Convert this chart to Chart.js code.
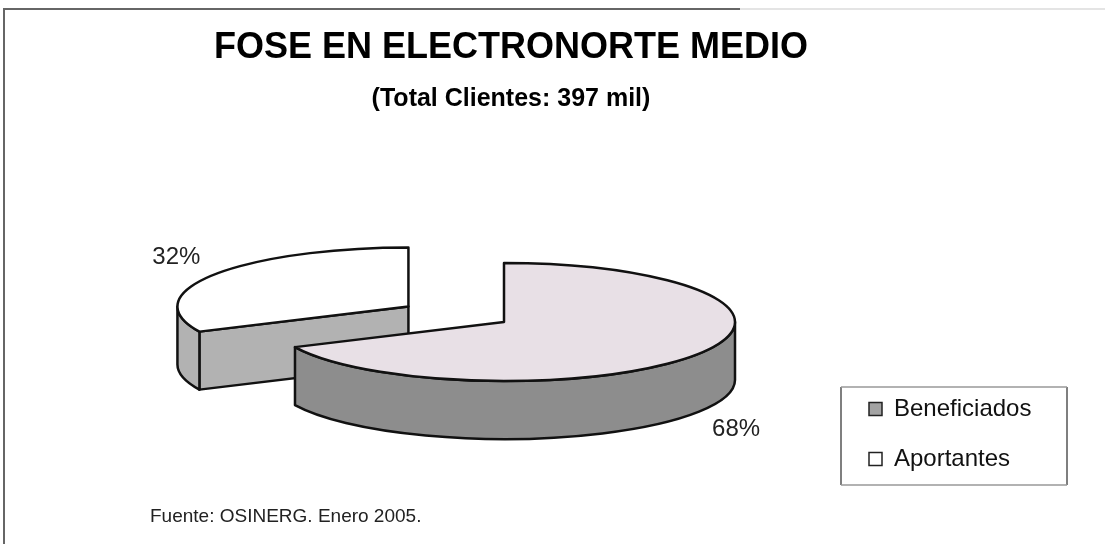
<!DOCTYPE html>
<html>
<head>
<meta charset="utf-8">
<script src="https://cdn.jsdelivr.net/npm/chart.js@4.4.1/dist/chart.umd.min.js"></script>
<style>
  html, body { margin: 0; padding: 0; background: #fff; }
  canvas { display: block; }
</style>
</head>
<body>
<canvas id="grafico" width="1105" height="544"></canvas>
<script>
// datos
const categorias = ['Beneficiados', 'Aportantes'];
const valores = [68, 32];
const titulo = 'FOSE EN ELECTRONORTE MEDIO';
const subtitulo = '(Total Clientes: 397 mil)';
const fuente = 'Fuente: OSINERG. Enero 2005.';

// estilo / vista 3D
const PIE_X = 504, PIE_Y = 322, RX = 231, RY = 59, PROF = 58;
const SEPARAR = [0, 0.49];
const colorSup = ['#e8e0e6', '#ffffff'];
const colorLado = ['#8d8d8d', '#b2b2b2'];
const colorLeyenda = ['#a3a3a3', '#ffffff'];
const BORDE = '#111';
const FUENTE_TXT = "'Liberation Sans', Arial, sans-serif";

function geom(arc, i) {
  const mid = (arc.startAngle + arc.endAngle) / 2;
  const e = SEPARAR[i];
  return {
    cx: PIE_X + RX * e * Math.cos(mid),
    cy: PIE_Y + RY * e * Math.sin(mid),
    a0: arc.startAngle, a1: arc.endAngle, mid
  };
}

function dibujarLados(ctx, g, color) {
  ctx.fillStyle = color;
  ctx.strokeStyle = BORDE;
  ctx.lineWidth = 2.5;
  ctx.lineJoin = 'round';
  // caras radiales que miran al frente
  const caras = [];
  if (Math.cos(g.a0) < -0.01) caras.push(g.a0);
  if (Math.cos(g.a1) > 0.01) caras.push(g.a1);
  caras.forEach(a => {
    const px = g.cx + RX * Math.cos(a), py = g.cy + RY * Math.sin(a);
    ctx.beginPath();
    ctx.moveTo(g.cx, g.cy);
    ctx.lineTo(px, py);
    ctx.lineTo(px, py + PROF);
    ctx.lineTo(g.cx, g.cy + PROF);
    ctx.closePath();
    ctx.fill();
    ctx.stroke();
  });
  // pared exterior (mitad delantera)
  const s = Math.max(g.a0, 0), e = Math.min(g.a1, Math.PI);
  if (s < e) {
    ctx.beginPath();
    ctx.ellipse(g.cx, g.cy, RX, RY, 0, s, e, false);
    ctx.ellipse(g.cx, g.cy + PROF, RX, RY, 0, e, s, true);
    ctx.closePath();
    ctx.fill();
    ctx.stroke();
  }
}

const pastel3d = {
  id: 'pastel3d',
  beforeDraw(chart) {
    const ctx = chart.ctx;
    ctx.save();
    ctx.fillStyle = '#fff';
    ctx.fillRect(0, 0, chart.width, chart.height);
    ctx.lineWidth = 2;
    ctx.strokeStyle = '#666';
    ctx.beginPath();
    ctx.moveTo(4, 544); ctx.lineTo(4, 9); ctx.lineTo(740, 9);
    ctx.stroke();
    ctx.strokeStyle = '#e4e4e4';
    ctx.beginPath();
    ctx.moveTo(740, 9); ctx.lineTo(1105, 9);
    ctx.stroke();
    ctx.restore();
  },
  beforeDatasetsDraw(chart) {
    const ctx = chart.ctx;
    const meta = chart.getDatasetMeta(0);
    const orden = meta.data.map((arc, i) => ({ arc, i, g: geom(arc, i) }))
      .sort((p, q) => p.g.cy - q.g.cy);
    orden.forEach(({ arc, i, g }) => {
      ctx.save();
      dibujarLados(ctx, g, colorLado[i]);
      // cara superior dibujada por el propio elemento del gráfico
      ctx.save();
      ctx.translate(g.cx, g.cy);
      ctx.scale(RX / arc.outerRadius, RY / arc.outerRadius);
      ctx.translate(-arc.x, -arc.y);
      arc.draw(ctx);
      ctx.restore();
      ctx.strokeStyle = BORDE;
      ctx.lineWidth = 2.5;
      ctx.lineJoin = 'round';
      ctx.beginPath();
      ctx.moveTo(g.cx, g.cy);
      ctx.ellipse(g.cx, g.cy, RX, RY, 0, g.a0, g.a1, false);
      ctx.closePath();
      ctx.stroke();
      ctx.restore();
    });
    return false;
  },
  afterLayout(chart) {
    const lg = chart.legend;
    lg.left = 843; lg.right = 1080;
    lg.top = 371; lg.bottom = 560;
  },
  afterDraw(chart) {
    const ctx = chart.ctx;
    const meta = chart.getDatasetMeta(0);
    const total = valores.reduce((a, b) => a + b, 0);
    ctx.save();
    ctx.fillStyle = '#222';
    ctx.font = '24px ' + FUENTE_TXT;
    ctx.textAlign = 'center';
    meta.data.forEach((arc, i) => {
      const g = geom(arc, i);
      const k = 1.19;
      const abajo = Math.sin(g.mid) > 0;
      const x = g.cx + RX * k * Math.cos(g.mid);
      const y = g.cy + RY * k * Math.sin(g.mid) + (abajo ? PROF : 0);
      ctx.textBaseline = abajo ? 'top' : 'bottom';
      ctx.fillText(Math.round(valores[i] / total * 100) + '%', x, y);
    });
    // marco de la leyenda
    ctx.lineWidth = 1.5;
    ctx.strokeStyle = '#555';
    ctx.beginPath();
    ctx.moveTo(841, 387); ctx.lineTo(841, 485);
    ctx.moveTo(1067, 387); ctx.lineTo(1067, 485);
    ctx.stroke();
    ctx.strokeStyle = '#999';
    ctx.beginPath();
    ctx.moveTo(841, 387); ctx.lineTo(1067, 387);
    ctx.moveTo(841, 485); ctx.lineTo(1067, 485);
    ctx.stroke();
    // fuente
    ctx.fillStyle = '#222';
    ctx.font = '19px ' + FUENTE_TXT;
    ctx.textAlign = 'left';
    ctx.textBaseline = 'middle';
    ctx.fillText(fuente, 150, 517);
    ctx.restore();
  }
};

new Chart(document.getElementById('grafico'), {
  type: 'pie',
  data: {
    labels: categorias,
    datasets: [{
      data: valores,
      backgroundColor: colorSup,
      borderWidth: 0
    }]
  },
  options: {
    responsive: false,
    animation: false,
    layout: { padding: { right: 83 } },
    plugins: {
      title: {
        display: true,
        text: titulo,
        color: '#000',
        font: { family: FUENTE_TXT, size: 36, weight: 'bold' },
        padding: { top: 26, bottom: 10 }
      },
      subtitle: {
        display: true,
        text: subtitulo,
        color: '#000',
        font: { family: FUENTE_TXT, size: 25, weight: 'bold' },
        padding: { top: 5, bottom: 10 }
      },
      legend: {
        position: 'right',
        align: 'start',
        labels: {
          color: '#111',
          font: { family: FUENTE_TXT, size: 24 },
          boxWidth: 13,
          boxHeight: 13,
          padding: 26,
          generateLabels(chart) {
            const items = Chart.overrides.pie.plugins.legend.labels.generateLabels(chart);
            items.forEach((it, i) => {
              it.fillStyle = colorLeyenda[i];
              it.strokeStyle = '#222';
              it.lineWidth = 1.5;
            });
            return items;
          }
        }
      },
      tooltip: { enabled: false }
    }
  },
  plugins: [pastel3d]
});
</script>
</body>
</html>
